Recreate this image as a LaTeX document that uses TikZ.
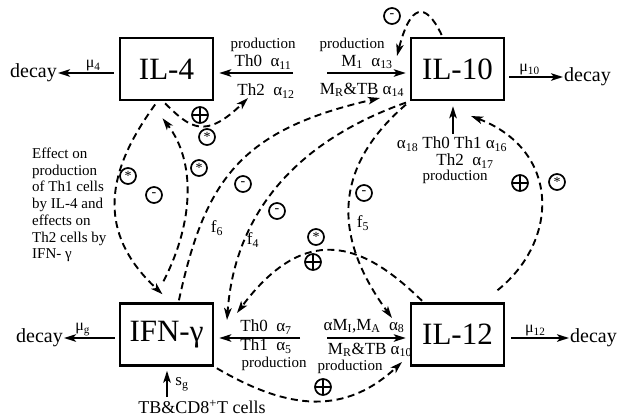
\documentclass[tikz,border=0pt]{standalone}
\usepackage{fontspec}
\setmainfont{Liberation Serif}
\usetikzlibrary{arrows.meta}

\begin{document}
\begin{tikzpicture}[
    x=1pt, y=-1pt,
    >={Stealth[length=12pt,width=7.5pt,inset=3pt]},
    cytokine/.style={
        draw,
        line width=2.5pt,
        minimum width=93pt,
        minimum height=62pt,
        inner sep=0pt,
        font=\fontsize{31}{31}\selectfont
    },
    decayword/.style={
        inner sep=1pt,
        font=\fontsize{20}{20}\selectfont
    },
    rate/.style={
        above,
        inner sep=1pt,
        font=\fontsize{16}{16}\selectfont
    },
    ratelabel/.style={
        inner sep=0pt,
        font=\fontsize{17}{17}\selectfont
    },
    prodword/.style={
        inner sep=0pt,
        font=\fontsize{15}{15}\selectfont
    },
    note/.style={
        align=left,
        inner sep=0pt,
        font=\fontsize{15}{16.7}\selectfont
    },
    flow/.style={
        ->,
        line width=2pt
    },
    effect/.style={
        ->,
        line width=1.9pt,
        dash pattern=on 7pt off 4.5pt
    },
    sign/.style={
        circle,
        draw,
        line width=1.7pt,
        minimum size=16pt,
        inner sep=0pt,
        font=\fontsize{14}{14}\selectfont
    },
    signplus/.style={
        sign,
        path picture={
            \draw[line width=1.3pt]
                (path picture bounding box.north) -- (path picture bounding box.south)
                (path picture bounding box.west) -- (path picture bounding box.east);
        }
    }
]

\useasboundingbox (0,0) rectangle (620,418);

% Horizontal and vertical positions of the four boxes
\def\LeftX{166.5}
\def\RightX{457.5}
\def\TopY{69}
\def\BotY{334.5}

% ==================================================
% Cytokines
% ==================================================

\node[cytokine] (il4)  at (\LeftX,\TopY)  {IL-4};
\node[cytokine] (il10) at (\RightX,\TopY) {IL-10};
\node[cytokine] (ifn)  at (\LeftX,\BotY)  {IFN-γ};
\node[cytokine] (il12) at (\RightX,\BotY) {IL-12};

% ==================================================
% Decay
% ==================================================

\node[decayword, anchor=east] (il4decay)  at (58,73)  {decay};
\node[decayword, anchor=west] (il10decay) at (563,77) {decay};
\node[decayword, anchor=east] (ifndecay)  at (64,338) {decay};
\node[decayword, anchor=west] (il12decay) at (569,338) {decay};

\draw[flow, shorten <=5pt]
    (il4decay.east -| il4.west)
    --
    node[rate, pos=0.42] (mu4) {μ\textsubscript{4}}
    (il4decay.east);

\draw[flow, shorten <=4pt]
    (il10decay.west -| il10.east)
    --
    node[rate, pos=0.42] (mu10) {μ\textsubscript{10}}
    (il10decay.west);

\draw[flow, shorten <=4pt]
    (ifndecay.east -| ifn.west)
    --
    node[rate, pos=0.66] (mug) {μ\textsubscript{g}}
    (ifndecay.east);

\draw[flow, shorten <=6pt]
    (il12decay.west -| il12.east)
    --
    node[rate, pos=0.47] (mu12) {μ\textsubscript{12}}
    (il12decay.west);

% ==================================================
% Production
% ==================================================

% IL-4 from Th0 and Th2
\coordinate (il4src) at (293,73);
\draw[flow, shorten >=5pt] (il4src) -- (il4src -| il4.east);
\node[prodword]  (il4prod) at (263,45) {production};
\node[ratelabel] (il4th0)  at (263,62) {Th0~~α\textsubscript{11}};
\node[ratelabel] (il4th2)  at (266,91) {Th2~~α\textsubscript{12}};

% IL-10 from macrophages
\coordinate (il10src) at (327,73);
\draw[flow, shorten >=4pt] (il10src) -- (il10src -| il10.west);
\node[prodword]  (il10prod) at (352,45) {production};
\node[ratelabel] (il10mi)   at (367,62) {M\textsubscript{1}~~α\textsubscript{13}};
\node[ratelabel] (il10mr)   at (362,90) {M\textsubscript{R}\&TB α\textsubscript{14}};

% IL-10 from T cells
\coordinate (il10srcb) at (453,134);
\draw[flow, shorten >=5pt] (il10srcb) -- (il10srcb |- il10.south);
\node[ratelabel] (il10th)    at (452,144) {α\textsubscript{18} Th0 Th1 α\textsubscript{16}};
\node[ratelabel] (il10th2)   at (465,161) {Th2~~α\textsubscript{17}};
\node[prodword]  (il10prodb) at (455,177) {production};

% IFN-gamma from Th0 and Th1
\coordinate (ifnsrc) at (300,338);
\draw[flow, shorten >=5pt] (ifnsrc) -- (ifnsrc -| ifn.east);
\node[ratelabel] (ifnth0)  at (266,327) {Th0~~α\textsubscript{7}};
\node[ratelabel] (ifnth1)  at (266,346) {Th1~~α\textsubscript{5}};
\node[prodword]  (ifnprod) at (274,364) {production};

% IFN-gamma from TB and CD8+ T cells
\coordinate (ifnsrcb) at (167,397);
\draw[flow, shorten >=4pt] (ifnsrcb) -- (ifnsrcb |- ifn.south);
\node[ratelabel] (ifnsg) at (182,384) {s\textsubscript{g}};
\node[inner sep=0pt, font=\fontsize{18}{18}\selectfont] (ifncd8) at (202,407)
    {TB\&CD8\textsuperscript{+}T cells};

% IL-12 from macrophages
\coordinate (il12src) at (327,338);
\draw[flow, shorten >=4pt] (il12src) -- (il12src -| il12.west);
\node[ratelabel] (il12ma)   at (364,326) {αM\textsubscript{I},M\textsubscript{A}~~α\textsubscript{8}};
\node[ratelabel] (il12mr)   at (370,350) {M\textsubscript{R}\&TB α\textsubscript{10}};
\node[prodword]  (il12prod) at (350,367) {production};

% ==================================================
% Effects between the cytokines
% ==================================================

\node[note, anchor=west] (effectnote) at (32,205)
    {Effect on\\production\\of Th1 cells\\by IL-4 and\\effects on\\Th2 cells by\\IFN-\ γ};

% Tips of the dashed arrows
\coordinate (il4tip)    at (248,98);
\coordinate (il10tipA)  at (380,98);
\coordinate (il10tipB)  at (471,116);
\coordinate (il10tipC)  at (397,56);
\coordinate (ifntipA)   at (227,320);
\coordinate (ifntipB)   at (237,313);
\coordinate (il12tipA)  at (392,318);
\coordinate (il12tipB)  at (402,362);

% IL-4 on its own production
\draw[effect, shorten <=3pt]
    ([xshift=-3.5pt]il4.south) .. controls (190,128) and (205,140) .. (il4tip);

% IL-4 on IFN-gamma
\draw[effect, shorten <=4pt]
    ([xshift=-9pt]il4.south) .. controls (115,160) and (88,225) .. ([xshift=-4pt,yshift=8pt]ifn.north);

% IFN-gamma on IL-4
\draw[effect]
    ([xshift=-3pt,yshift=21pt]ifn.north) .. controls (195,220) and (195,160) .. ([xshift=-4pt,yshift=-17pt]il4.south);

% f6: IFN-gamma on IL-10
\draw[effect, shorten <=2pt]
    ([xshift=12pt]ifn.north) .. controls (205,180) and (240,130) .. (il10tipA);
\node[ratelabel] (f6) at (217,228) {f\textsubscript{6}};

% f4: IL-10 on IFN-gamma
\draw[effect, shorten <=4pt]
    (il10.south west) .. controls (300,140) and (235,210) .. (ifntipA);
\node[ratelabel] (f4) at (253,240) {f\textsubscript{4}};

% f5: IL-10 on IL-12
\draw[effect, shorten <=5pt]
    (il10.south west) .. controls (330,170) and (335,240) .. (il12tipA);
\node[ratelabel] (f5) at (363,223) {f\textsubscript{5}};

% IFN-gamma on IL-12
\draw[effect, shorten <=3pt]
    (ifn.south east) .. controls (280,405) and (340,420) .. (il12tipB);

% IL-12 on IFN-gamma
\draw[effect, shorten <=2pt]
    ([xshift=-34pt]il12.north) .. controls (370,250) and (310,215) .. (ifntipB);

% IL-12 on IL-10
\draw[effect]
    ([xshift=40pt,yshift=12pt]il12.north) .. controls (560,240) and (560,150) .. (il10tipB);

% IL-10 on its own production
\draw[effect, shorten <=2pt]
    ([xshift=-15pt]il10.north) .. controls (425,0) and (410,5) .. (il10tipC);

% ==================================================
% Signs of the effects
% ==================================================

\node[signplus] (il4selfplus) at (200,115) {};
\node[sign]     (il4selfstar) at (207,137) {\raisebox{-3pt}{*}};
\node[sign]     (il4upstar)   at (199,168) {\raisebox{-3pt}{*}};
\node[sign]     (il4downstar) at (128,176) {\raisebox{-3pt}{*}};
\node[sign]     (il4downminus) at (154,195) {-};
\node[sign]     (fsixminus)   at (243,184) {-};
\node[sign]     (ffourminus)  at (277,211) {-};
\node[sign]     (ffiveminus)  at (364,193) {-};
\node[sign]     (il12star)    at (316,237) {\raisebox{-3pt}{*}};
\node[signplus] (il12plus)    at (313,262) {};
\node[signplus] (ifnplus)     at (323,387) {};
\node[sign]     (il10minus)   at (392,16)  {-};
\node[signplus] (il10plus)    at (520,183) {};
\node[sign]     (il10star)    at (557,182) {\raisebox{-3pt}{*}};

\end{tikzpicture}
\end{document}
